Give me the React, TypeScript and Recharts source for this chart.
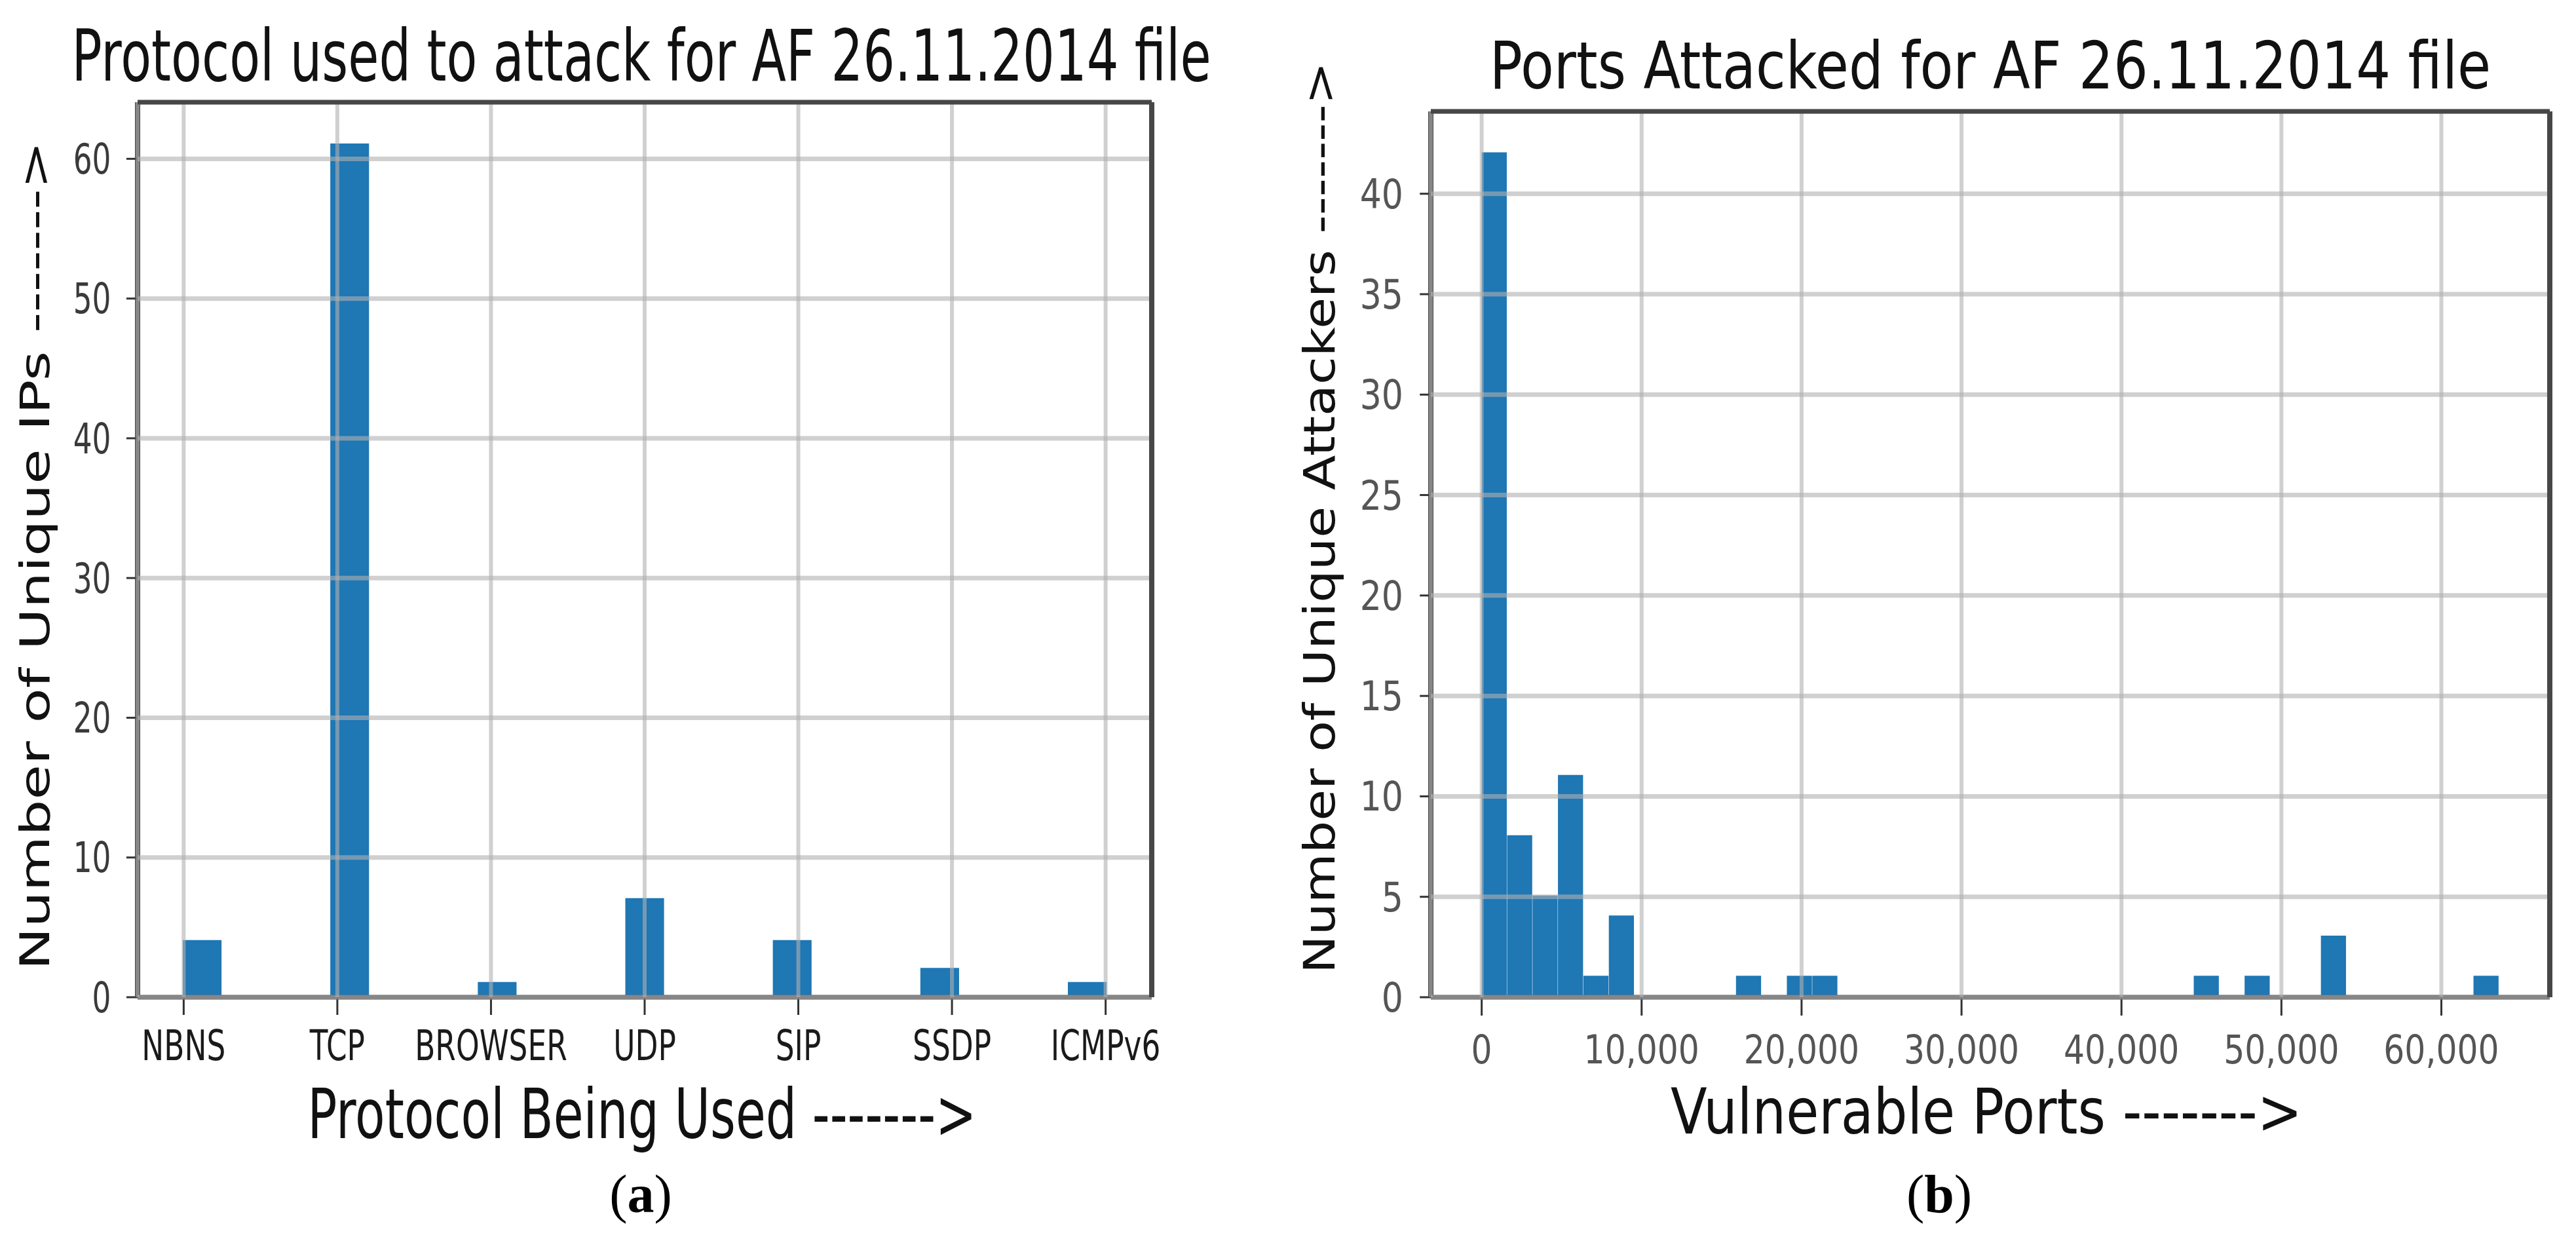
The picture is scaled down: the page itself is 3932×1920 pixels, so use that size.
import React from 'react';
import { BarChart, Bar, XAxis, YAxis, CartesianGrid, ReferenceLine } from 'recharts';

// ---------- Panel (a): protocols ----------
const protocols = ['NBNS', 'TCP', 'BROWSER', 'UDP', 'SIP', 'SSDP', 'ICMPv6'];
const protocolCounts = [4, 61, 1, 7, 4, 2, 1];
const protocolYTicks = [0, 10, 20, 30, 40, 50, 60];
const PROTOCOL_BINS = 25;

// ---------- Panel (b): ports ----------
const portBinCounts = [
  42, 8, 5, 11, 1, 4, 0, 0, 0, 0,
  1, 0, 1, 1, 0, 0, 0, 0, 0, 0,
  0, 0, 0, 0, 0, 0, 0, 0, 1, 0,
  1, 0, 0, 3, 0, 0, 0, 0, 0, 1,
];
const PORT_MIN = 0;
const PORT_MAX = 63600;
const portXTicks = [0, 10000, 20000, 30000, 40000, 50000, 60000];
const portYTicks = [0, 5, 10, 15, 20, 25, 30, 35, 40];

// ---------- derived histogram tables ----------
const protoSpan = protocols.length - 1;
const protoBinW = protoSpan / PROTOCOL_BINS;
const protocolData = protocols.map((name, i) => {
  const idx = Math.min(Math.floor(i / protoBinW + 1e-9), PROTOCOL_BINS - 1);
  return { name, x: (idx + 0.5) * protoBinW, count: protocolCounts[i] };
});
const protoXDomain: [number, number] = [-0.05 * protoSpan, protoSpan + 0.05 * protoSpan];
const protoYMax = Math.max(...protocolCounts) * 1.05;

const portSpan = PORT_MAX - PORT_MIN;
const portBinW = portSpan / portBinCounts.length;
const portData = portBinCounts.map((count, k) => ({ x: PORT_MIN + (k + 0.5) * portBinW, count }));
const portXDomain: [number, number] = [PORT_MIN - 0.05 * portSpan, PORT_MAX + 0.05 * portSpan];
const portYMax = Math.max(...portBinCounts) * 1.05;

const BLUE = '#1f77b4';
const SPINE = '#474747';
const FONT = '"DejaVu Sans", sans-serif';
const H = 1920;

type PanelProps = {
  left: number;
  f: number;
  width: number;
  plotL: number;
  plotR: number;
  top: number;
  data: any[];
  xDomain: [number, number];
  yMax: number;
  xTicks: number[];
  yTicks: number[];
  binW: number;
  xFmt: (v: number) => string;
  xTickFont: number;
  xTickFill: string;
  yTickFont: number;
  yTickFill: string;
  yTickSize: number;
  yTickMargin: number;
  xTickSize: number;
  xTickMargin: number;
  title: string;
  titleX: number;
  titleY: number;
  titleFont: number;
  xLabel: string;
  xLabelX: number;
  xLabelY: number;
  xLabelFont: number;
  yLabel: string;
  yLabelX: number;
  yLabelY: number;
  yLabelFont: number;
};

function Panel(p: PanelProps) {
  const yAxisW = 160;
  const xAxisH = 130;
  const bottomPlot = 1522;
  const plotW = p.plotR - p.plotL;
  const barSize = (plotW * p.binW) / (p.xDomain[1] - p.xDomain[0]);
  const vw = 6 / p.f;
  return (
    <div
      style={{
        position: 'absolute',
        left: p.left,
        top: 0,
        width: p.width,
        height: H,
        transform: `scaleX(${p.f})`,
        transformOrigin: '0 0',
      }}
    >
      <BarChart
        width={p.width}
        height={H}
        data={p.data}
        margin={{ top: p.top, right: p.width - p.plotR, left: p.plotL - yAxisW, bottom: H - bottomPlot - xAxisH }}
      >
        <XAxis
          type="number"
          dataKey="x"
          domain={p.xDomain}
          ticks={p.xTicks}
          interval={0}
          height={xAxisH}
          tickFormatter={p.xFmt}
          tickSize={p.xTickSize}
          tickMargin={p.xTickMargin}
          axisLine={{ stroke: SPINE, strokeWidth: 7 }}
          tickLine={{ stroke: '#333', strokeWidth: 3 / p.f }}
          tick={{ fontSize: p.xTickFont, fontFamily: FONT, fill: p.xTickFill }}
          allowDataOverflow
        />
        <YAxis
          type="number"
          domain={[0, p.yMax]}
          ticks={p.yTicks}
          interval={0}
          width={yAxisW}
          tickSize={p.yTickSize}
          tickMargin={p.yTickMargin}
          axisLine={{ stroke: SPINE, strokeWidth: 8 / p.f }}
          tickLine={{ stroke: '#333', strokeWidth: 3 }}
          tick={{ fontSize: p.yTickFont, fontFamily: FONT, fill: p.yTickFill }}
          allowDataOverflow
        />
        <Bar dataKey="count" fill={BLUE} stroke={BLUE} strokeWidth={4} barSize={barSize} isAnimationActive={false} />
        <CartesianGrid vertical={false} stroke="#b0b0b0" strokeOpacity={0.6} strokeWidth={7} zIndex={600} />
        <CartesianGrid horizontal={false} stroke="#b0b0b0" strokeOpacity={0.6} strokeWidth={vw} zIndex={600} />
        <ReferenceLine y={p.yMax} stroke={SPINE} strokeWidth={7} zIndex={700} />
        <ReferenceLine x={p.xDomain[1]} stroke={SPINE} strokeWidth={8 / p.f} zIndex={700} />
      </BarChart>
      <svg
        width={p.width}
        height={H}
        style={{ position: 'absolute', left: 0, top: 0, pointerEvents: 'none' }}
      >
        <text x={p.titleX} y={p.titleY} textAnchor="middle" fontFamily={FONT} fontSize={p.titleFont} fill="#111">
          {p.title}
        </text>
        <text x={p.xLabelX} y={p.xLabelY} textAnchor="middle" fontFamily={FONT} fontSize={p.xLabelFont} fill="#111">
          {p.xLabel}
        </text>
        <text
          transform={`translate(${p.yLabelX},${p.yLabelY}) rotate(-90)`}
          textAnchor="middle"
          fontFamily={FONT}
          fontSize={p.yLabelFont}
          fill="#111"
        >
          {p.yLabel}
        </text>
      </svg>
    </div>
  );
}

export default function App() {
  const fa = 0.71;
  const fb = 0.84;
  const leftB = 1966;
  const Wa = 1966 / fa;
  const Wb = (3932 - leftB) / fb;
  return (
    <div style={{ position: 'absolute', left: 0, top: 0, width: 3932, height: H, background: '#fff', overflow: 'hidden' }}>
      <Panel
        left={0}
        f={fa}
        width={Wa}
        plotL={210 / fa}
        plotR={1758 / fa}
        top={156}
        data={protocolData}
        xDomain={protoXDomain}
        yMax={protoYMax}
        xTicks={protocols.map((_, i) => i)}
        yTicks={protocolYTicks}
        binW={protoBinW}
        xFmt={(v) => protocols[Math.round(v)] ?? ''}
        xTickFont={64}
        xTickFill="#1a1a1a"
        yTickFont={64}
        yTickFill="#3a3a3a"
        yTickSize={24}
        yTickMargin={33}
        xTickSize={27}
        xTickMargin={24}
        title="Protocol used to attack for AF 26.11.2014 file"
        titleX={979 / fa}
        titleY={123}
        titleFont={108}
        xLabel="Protocol Being Used ------->"
        xLabelX={980 / fa}
        xLabelY={1737}
        xLabelFont={105}
        yLabel="Number of Unique IPs ------->"
        yLabelX={75 / fa}
        yLabelY={848}
        yLabelFont={87}
      />
      <Panel
        left={leftB}
        f={fb}
        width={Wb}
        plotL={(2184 - leftB) / fb}
        plotR={(3892 - leftB) / fb}
        top={170}
        data={portData}
        xDomain={portXDomain}
        yMax={portYMax}
        xTicks={portXTicks}
        yTicks={portYTicks}
        binW={portBinW}
        xFmt={(v) => v.toLocaleString('en-US')}
        xTickFont={60}
        xTickFill="#555"
        yTickFont={62}
        yTickFill="#555"
        yTickSize={20}
        yTickMargin={30}
        xTickSize={28}
        xTickMargin={30}
        title="Ports Attacked for AF 26.11.2014 file"
        titleX={(3038 - leftB) / fb}
        titleY={135}
        titleFont={99}
        xLabel="Vulnerable Ports ------->"
        xLabelX={(3032 - leftB) / fb}
        xLabelY={1730}
        xLabelFont={97}
        yLabel="Number of Unique Attackers ------->"
        yLabelX={(2037 - leftB) / fb}
        yLabelY={790}
        yLabelFont={78}
      />
      <svg width={3932} height={H} style={{ position: 'absolute', left: 0, top: 0, pointerEvents: 'none' }}>
        <text x={978} y={1850} textAnchor="middle" fontFamily='"Liberation Serif", "Times New Roman", serif' fontSize={82} fill="#000">
          (<tspan fontWeight="bold">a</tspan>)
        </text>
        <text x={2960} y={1850} textAnchor="middle" fontFamily='"Liberation Serif", "Times New Roman", serif' fontSize={82} fill="#000">
          (<tspan fontWeight="bold">b</tspan>)
        </text>
      </svg>
    </div>
  );
}
